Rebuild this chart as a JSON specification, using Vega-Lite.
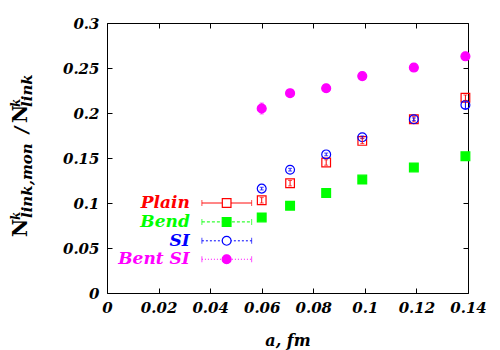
{
  "$schema": "https://vega.github.io/schema/vega-lite/v6.json",
  "width": 361,
  "height": 270,
  "autosize": {"type": "none"},
  "padding": {"left": 107, "top": 23, "right": 32, "bottom": 57},
  "background": "white",
  "config": {
    "view": {"stroke": "#000000", "strokeWidth": 1},
    "axis": {
      "labelFont": "DejaVu Serif",
      "labelFontSize": 15,
      "labelFontStyle": "italic",
      "labelFontWeight": "bold",
      "labelColor": "#000000",
      "tickColor": "#000000",
      "tickSize": -5,
      "domain": false,
      "grid": false,
      "labelFlush": false,
      "labelOverlap": false,
      "labelBound": false,
      "titleFont": "DejaVu Serif",
      "titleFontStyle": "italic",
      "titleFontWeight": "bold",
      "titleColor": "#000000"
    }
  },
  "datasets": {
    "pts": [
      {"series": "Plain", "a": 0.06, "v": 0.103, "lo": 0.1, "hi": 0.106},
      {"series": "Plain", "a": 0.071, "v": 0.122, "lo": 0.119, "hi": 0.125},
      {"series": "Plain", "a": 0.085, "v": 0.145, "lo": 0.142, "hi": 0.148},
      {"series": "Plain", "a": 0.099, "v": 0.169, "lo": 0.166, "hi": 0.172},
      {"series": "Plain", "a": 0.119, "v": 0.193, "lo": 0.19, "hi": 0.196},
      {"series": "Plain", "a": 0.139, "v": 0.217, "lo": 0.214, "hi": 0.22},
      {"series": "Bend", "a": 0.06, "v": 0.084},
      {"series": "Bend", "a": 0.071, "v": 0.097},
      {"series": "Bend", "a": 0.085, "v": 0.111},
      {"series": "Bend", "a": 0.099, "v": 0.126},
      {"series": "Bend", "a": 0.119, "v": 0.1395},
      {"series": "Bend", "a": 0.139, "v": 0.152},
      {"series": "SI", "a": 0.06, "v": 0.116, "lo": 0.1145, "hi": 0.1175},
      {"series": "SI", "a": 0.071, "v": 0.137, "lo": 0.1355, "hi": 0.1385},
      {"series": "SI", "a": 0.085, "v": 0.154, "lo": 0.1525, "hi": 0.1555},
      {"series": "SI", "a": 0.099, "v": 0.173, "lo": 0.1715, "hi": 0.1745},
      {"series": "SI", "a": 0.119, "v": 0.193, "lo": 0.1915, "hi": 0.1945},
      {"series": "SI", "a": 0.139, "v": 0.209, "lo": 0.205, "hi": 0.213},
      {"series": "Bent SI", "a": 0.06, "v": 0.205, "lo": 0.199, "hi": 0.211},
      {"series": "Bent SI", "a": 0.071, "v": 0.222},
      {"series": "Bent SI", "a": 0.085, "v": 0.2275},
      {"series": "Bent SI", "a": 0.099, "v": 0.241},
      {"series": "Bent SI", "a": 0.119, "v": 0.2505},
      {"series": "Bent SI", "a": 0.139, "v": 0.263}
    ],
    "key": [
      {"series": "Plain", "y": 0.1, "x0": 0.0368, "x1": 0.0561, "xm": 0.0464, "xt": 0.0321},
      {"series": "Bend", "y": 0.079, "x0": 0.0368, "x1": 0.0561, "xm": 0.0464, "xt": 0.0321},
      {"series": "SI", "y": 0.058, "x0": 0.0368, "x1": 0.0561, "xm": 0.0464, "xt": 0.0321},
      {"series": "Bent SI", "y": 0.0375, "x0": 0.0368, "x1": 0.0561, "xm": 0.0464, "xt": 0.0321}
    ],
    "ttl": [
      {"role": "big", "t": "N", "tx": -0.0309, "ty": 0.0622},
      {"role": "sup", "t": "k", "tx": -0.0337, "ty": 0.0811},
      {"role": "sub", "t": "link,mon", "tx": -0.029, "ty": 0.0833},
      {"role": "slash", "t": "/", "tx": -0.0306, "ty": 0.1811},
      {"role": "big", "t": "N", "tx": -0.0309, "ty": 0.1889},
      {"role": "sup", "t": "k", "tx": -0.0337, "ty": 0.2067},
      {"role": "sub", "t": "link", "tx": -0.029, "ty": 0.2067}
    ]
  },
  "layer": [
    {
      "data": {"name": "pts"},
      "mark": {"type": "point", "strokeWidth": 1.2, "opacity": 1},
      "encoding": {
        "x": {"field": "a", "type": "quantitative",
              "scale": {"domain": [0, 0.14], "nice": false, "zero": false},
              "axis": {"orient": "bottom", "values": [0, 0.02, 0.04, 0.06, 0.08, 0.1, 0.12, 0.14], "format": ".2~f", "labelPadding": 12, "title": "a, fm", "titleFontSize": 16, "titleBaseline": "middle", "titleY": 47}},
        "y": {"field": "v", "type": "quantitative",
              "scale": {"domain": [0, 0.3], "nice": false, "zero": false},
              "axis": {"orient": "left", "values": [0, 0.05, 0.1, 0.15, 0.2, 0.25, 0.3], "format": ".2~f", "labelPadding": 13, "title": null}},
        "shape": {"field": "series", "type": "nominal", "scale": {"domain": ["Plain", "Bend", "SI", "Bent SI"], "range": ["square", "square", "circle", "circle"]}, "legend": null},
        "size": {"field": "series", "type": "ordinal", "scale": {"domain": ["Plain", "Bend", "SI", "Bent SI"], "range": [75, 80, 64, 95]}, "legend": null},
        "stroke": {"field": "series", "type": "nominal", "scale": {"domain": ["Plain", "Bend", "SI", "Bent SI"], "range": ["#ff0000", "#00ff00", "#0000ff", "#ff00ff"]}, "legend": null},
        "fill": {"field": "series", "type": "nominal", "scale": {"domain": ["Plain", "Bend", "SI", "Bent SI"], "range": ["transparent", "#00ff00", "transparent", "#ff00ff"]}, "legend": null}
      }
    },
    {
      "data": {"name": "pts"},
      "transform": [{"filter": "isValid(datum.lo)"}],
      "mark": {"type": "rule", "strokeWidth": 1},
      "encoding": {
        "x": {"field": "a", "type": "quantitative", "axis": null},
        "y": {"field": "lo", "type": "quantitative", "axis": null},
        "y2": {"field": "hi"},
        "stroke": {"field": "series", "type": "nominal", "legend": null}
      }
    },
    {
      "data": {"name": "pts"},
      "transform": [{"filter": "isValid(datum.lo)"}],
      "mark": {"type": "tick", "orient": "horizontal", "size": 4, "thickness": 1},
      "encoding": {
        "x": {"field": "a", "type": "quantitative", "axis": null},
        "y": {"field": "lo", "type": "quantitative", "axis": null},
        "color": {"field": "series", "type": "nominal", "scale": {"domain": ["Plain", "Bend", "SI", "Bent SI"], "range": ["#ff0000", "#00ff00", "#0000ff", "#ff00ff"]}, "legend": null}
      }
    },
    {
      "data": {"name": "pts"},
      "transform": [{"filter": "isValid(datum.lo)"}],
      "mark": {"type": "tick", "orient": "horizontal", "size": 4, "thickness": 1},
      "encoding": {
        "x": {"field": "a", "type": "quantitative", "axis": null},
        "y": {"field": "hi", "type": "quantitative", "axis": null},
        "color": {"field": "series", "type": "nominal", "legend": null}
      }
    },
    {
      "data": {"name": "key"},
      "mark": {"type": "rule", "strokeWidth": 1},
      "encoding": {
        "x": {"field": "x0", "type": "quantitative", "axis": null},
        "x2": {"field": "x1"},
        "y": {"field": "y", "type": "quantitative", "axis": null},
        "stroke": {"field": "series", "type": "nominal", "legend": null},
        "strokeDash": {"field": "series", "type": "nominal", "scale": {"domain": ["Plain", "Bend", "SI", "Bent SI"], "range": [[1, 0], [3, 2], [2, 2], [1, 2]]}, "legend": null}
      }
    },
    {
      "data": {"name": "key"},
      "mark": {"type": "tick", "orient": "vertical", "size": 6, "thickness": 1},
      "encoding": {
        "x": {"field": "x0", "type": "quantitative", "axis": null},
        "y": {"field": "y", "type": "quantitative", "axis": null},
        "color": {"field": "series", "type": "nominal", "legend": null}
      }
    },
    {
      "data": {"name": "key"},
      "mark": {"type": "tick", "orient": "vertical", "size": 6, "thickness": 1},
      "encoding": {
        "x": {"field": "x1", "type": "quantitative", "axis": null},
        "y": {"field": "y", "type": "quantitative", "axis": null},
        "color": {"field": "series", "type": "nominal", "legend": null}
      }
    },
    {
      "data": {"name": "key"},
      "mark": {"type": "point", "strokeWidth": 1.2, "opacity": 1},
      "encoding": {
        "x": {"field": "xm", "type": "quantitative", "axis": null},
        "y": {"field": "y", "type": "quantitative", "axis": null},
        "shape": {"field": "series", "type": "nominal", "legend": null},
        "size": {"field": "series", "type": "ordinal", "legend": null},
        "stroke": {"field": "series", "type": "nominal", "legend": null},
        "fill": {"condition": {"test": "datum.series === 'Plain' || datum.series === 'SI'", "value": "white"}, "field": "series", "type": "nominal", "legend": null}
      }
    },
    {
      "data": {"name": "ttl"},
      "transform": [{"filter": "datum.role === 'big'"}],
      "mark": {"type": "text", "align": "left", "baseline": "alphabetic", "angle": 270, "font": "DejaVu Serif", "fontSize": 20, "fontWeight": "bold", "color": "#000000", "clip": false},
      "encoding": {
        "x": {"field": "tx", "type": "quantitative", "axis": null},
        "y": {"field": "ty", "type": "quantitative", "axis": null},
        "text": {"field": "t"}
      }
    },
    {
      "data": {"name": "ttl"},
      "transform": [{"filter": "datum.role === 'slash'"}],
      "mark": {"type": "text", "align": "center", "baseline": "alphabetic", "angle": 270, "font": "DejaVu Serif", "fontSize": 18, "fontWeight": "bold", "fontStyle": "italic", "color": "#000000", "clip": false},
      "encoding": {
        "x": {"field": "tx", "type": "quantitative", "axis": null},
        "y": {"field": "ty", "type": "quantitative", "axis": null},
        "text": {"field": "t"}
      }
    },
    {
      "data": {"name": "ttl"},
      "transform": [{"filter": "datum.role === 'sup'"}],
      "mark": {"type": "text", "align": "left", "baseline": "alphabetic", "angle": 270, "font": "DejaVu Serif", "fontSize": 12, "fontWeight": "bold", "fontStyle": "italic", "color": "#000000", "clip": false},
      "encoding": {
        "x": {"field": "tx", "type": "quantitative", "axis": null},
        "y": {"field": "ty", "type": "quantitative", "axis": null},
        "text": {"field": "t"}
      }
    },
    {
      "data": {"name": "ttl"},
      "transform": [{"filter": "datum.role === 'sub'"}],
      "mark": {"type": "text", "align": "left", "baseline": "alphabetic", "angle": 270, "font": "DejaVu Serif", "fontSize": 15, "fontWeight": "bold", "fontStyle": "italic", "color": "#000000", "clip": false},
      "encoding": {
        "x": {"field": "tx", "type": "quantitative", "axis": null},
        "y": {"field": "ty", "type": "quantitative", "axis": null},
        "text": {"field": "t"}
      }
    },
    {
      "data": {"name": "key"},
      "mark": {"type": "text", "align": "right", "baseline": "middle", "font": "DejaVu Serif", "fontSize": 17, "fontStyle": "italic", "fontWeight": "bold"},
      "encoding": {
        "x": {"field": "xt", "type": "quantitative",
              "axis": {"orient": "top", "labels": false, "values": [0, 0.02, 0.04, 0.06, 0.08, 0.1, 0.12, 0.14], "title": null}},
        "y": {"field": "y", "type": "quantitative",
              "axis": {"orient": "right", "labels": false, "values": [0, 0.05, 0.1, 0.15, 0.2, 0.25, 0.3], "title": null}},
        "text": {"field": "series"},
        "color": {"field": "series", "type": "nominal", "legend": null}
      }
    }
  ],
  "resolve": {"axis": {"x": "independent", "y": "independent"}}
}
